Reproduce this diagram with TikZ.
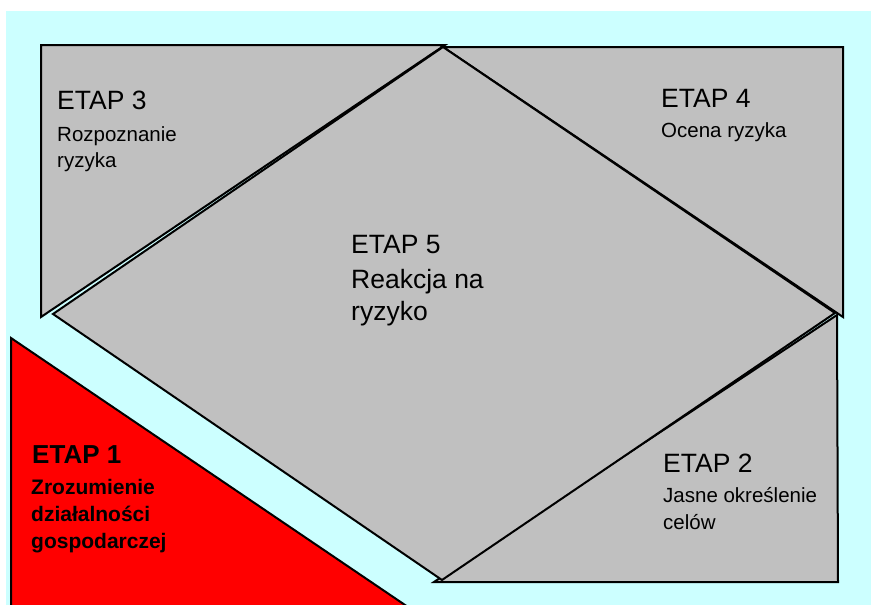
\documentclass[tikz,border=0pt]{standalone}
\usepackage{fontspec}
\setmainfont{Liberation Sans}
\usetikzlibrary{positioning}

\definecolor{tlo}{HTML}{CCFFFF}
\definecolor{szary}{HTML}{C0C0C0}
\definecolor{czerwony}{HTML}{FF0000}

\begin{document}
\begin{tikzpicture}[x=1pt,y=-1pt,line join=miter,
                    etap/.style={anchor=base west,inner sep=0pt,font=\fontsize{26.5}{30}\selectfont},
                    opis/.style={anchor=base west,inner sep=0pt,font=\fontsize{20.5}{24}\selectfont}]
\tikzstyle{pole}=[draw=black,line width=2pt,fill=szary]
\useasboundingbox (0,0) rectangle (871,605);
\fill[tlo] (6,11) rectangle (871,605);
% trojkaty w rogach
\draw[pole] (41,45) -- (445,45) -- (41,317) -- cycle;
\draw[pole] (443,47) -- (843,47) -- (843,317) -- cycle;
\draw[pole] (837,315) -- (838,582) -- (434,582) -- cycle;
% romb
\draw[pole] (443,47) -- (835,313) -- (442,580) -- (53,314) -- cycle;
% etap 1
\draw[draw=black,line width=2pt,fill=czerwony] (11,338) -- (408,607) -- (11,607) -- cycle;
\node[etap] (e3) at (57,109) {ETAP 3};
\node[opis] (e3a) at (57,141) {Rozpoznanie};
\node[opis] (e3b) at (57,167) {ryzyka};
\node[etap] (e4) at (661,107) {ETAP 4};
\node[opis] (e4a) at (661,137) {Ocena ryzyka};
\node[etap] (e5) at (351,253) {ETAP 5};
\node[etap] (e5a) at (351,288) {Reakcja na};
\node[etap] (e5b) at (351,320) {ryzyko};
\node[etap] (e2) at (663,472) {ETAP 2};
\node[opis] (e2a) at (663,502) {Jasne określenie};
\node[opis] (e2b) at (663,529) {celów};
\node[etap,font=\bfseries\fontsize{26}{30}\selectfont] (e1) at (32,463) {ETAP 1};
\node[opis,font=\bfseries\fontsize{21}{24}\selectfont] (e1a) at (31,494) {Zrozumienie};
\node[opis,font=\bfseries\fontsize{21}{24}\selectfont] (e1b) at (31,521) {działalności};
\node[opis,font=\bfseries\fontsize{21}{24}\selectfont] (e1c) at (31,548) {gospodarczej};
\end{tikzpicture}
\end{document}
